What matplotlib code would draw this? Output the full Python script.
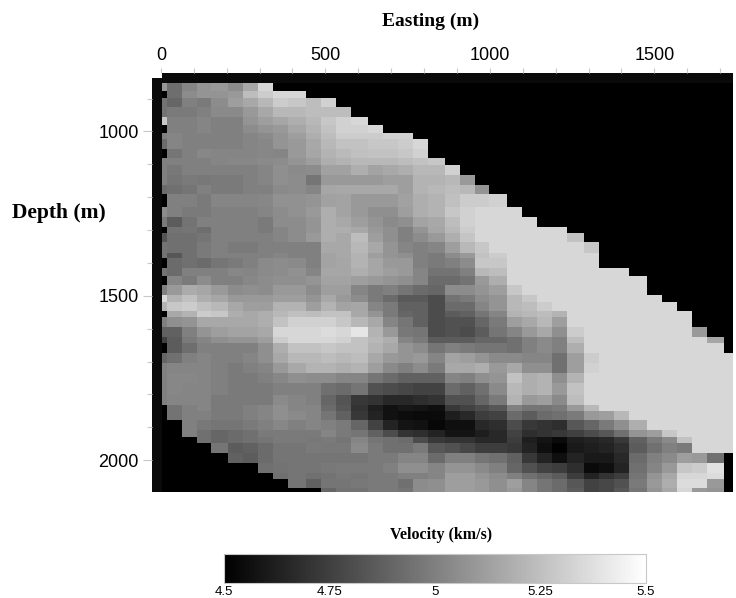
import numpy as np
import matplotlib
matplotlib.use("Agg")
import matplotlib.pyplot as plt

# cell edges (m)
x_edges = [-27, 3, 18, 64, 109, 152, 204, 249, 295, 340, 386, 441, 486, 532, 578, 629, 675, 720,
           766, 812, 863, 909, 955, 997, 1052, 1097, 1143, 1188, 1234, 1286, 1331, 1377, 1422,
           1477, 1523, 1568, 1614, 1660, 1711, 1739]
y_edges = [822, 837, 852, 877, 898, 925, 956, 980, 1005, 1023, 1053, 1081, 1102, 1132, 1163, 1190,
           1230, 1260, 1291, 1309, 1336, 1370, 1385, 1416, 1440, 1467, 1498, 1519, 1546, 1565,
           1595, 1626, 1644, 1675, 1705, 1736, 1766, 1802, 1833, 1851, 1878, 1909, 1930, 1948,
           1979, 2009, 2040, 2058, 2085, 2097]

x_ticks = [0, 500, 1000, 1500]
y_ticks = [1000, 1500, 2000]
bar_ticks = [4.5, 4.75, 5, 5.25, 5.5]
bar_labels = ["4.5", "4.75", "5", "5.25", "5.5"]

# narrow column just right of the left band, one value per row
narrow_col = [59, 0, 45, 45, 78, 0, 50, 42, 0, 50, 50, 50, 42, 0, 55, 48, 0, 33, 45, 45, 0, 45, 0,
              50, 85, 70, 0, 50, 38, 25, 0, 40, 50, 50, 50, 50, 0, 0, 0, 0, 0, 0, 0, 0, 0, 0, 0]

# velocity above 4.5 km/s in hundredths, per row, columns left to right (missing = no data, black)
rows = [
 [43,52,58,60,55,66,84],
 [43,55,58,58,60,74,80,84,84],
 [40,50,48,55,62,66,72,80,78,74,82],
 [48,48,50,54,54,60,66,72,72,74,74,74],
 [50,50,52,50,50,58,62,65,68,72,78,82,84],
 [50,50,52,50,50,55,58,60,65,70,76,82,82,84],
 [52,50,50,50,50,52,54,58,62,68,74,80,80,80,82,82],
 [52,50,50,50,50,52,53,58,60,66,72,76,76,78,78,80,84],
 [46,50,53,52,52,52,53,52,60,65,70,73,75,76,76,78,82],
 [50,50,50,52,53,53,54,55,58,62,68,70,72,72,72,74,76,78],
 [47,50,50,50,50,50,52,56,54,55,63,63,68,64,66,68,72,72,82],
 [46,48,47,48,48,50,52,56,55,46,60,60,60,60,62,62,70,70,72,60],
 [44,46,50,48,48,50,50,54,55,52,65,66,66,66,66,62,70,72,74,72,58],
 [50,50,48,52,52,52,53,57,57,58,63,64,60,60,60,63,68,70,75,80,80,82],
 [50,48,48,50,50,50,52,55,57,60,68,64,60,56,56,62,68,70,78,82,84,84,84],
 [36,45,50,50,50,50,48,55,55,58,68,66,62,58,54,56,64,66,74,82,84,84,84,84],
 [45,46,43,50,50,50,48,52,55,58,68,68,66,60,56,50,58,65,72,80,84,84,84,84,84,84],
 [44,44,46,50,50,50,50,52,55,60,68,66,74,62,56,50,55,60,68,77,84,84,84,84,84,84,76],
 [44,44,48,50,48,48,50,50,50,50,66,66,72,66,58,52,50,52,62,72,78,84,84,84,84,84,84,78],
 [34,44,48,50,50,50,50,52,50,50,64,66,70,62,58,56,50,48,55,60,76,80,84,84,84,84,84,84],
 [42,44,42,46,48,50,54,55,54,50,64,65,70,65,60,60,50,48,50,55,78,78,84,84,84,84,84,84],
 [42,50,50,50,53,52,54,55,57,52,65,65,68,65,62,60,52,45,45,50,72,74,84,84,84,84,84,84,84,84],
 [52,48,55,50,50,53,55,56,56,58,64,64,62,60,58,56,52,42,42,45,60,68,84,84,84,84,84,84,84,84,84],
 [60,67,65,60,55,56,55,60,60,55,62,62,52,48,50,46,42,40,55,55,58,62,78,84,84,84,84,84,84,84,84],
 [70,75,68,65,60,60,60,62,62,58,66,60,55,48,42,35,35,30,45,48,55,58,72,78,84,84,84,84,84,84,84,84],
 [78,80,75,72,66,62,62,70,70,62,70,64,65,52,48,38,38,30,42,42,52,58,72,74,80,84,84,84,84,84,84,84,84],
 [66,70,80,78,68,66,68,72,75,74,76,76,66,58,48,40,38,30,36,38,46,52,70,72,74,70,84,84,84,84,84,84,84,84],
 [56,58,66,66,66,66,68,76,82,82,82,78,72,66,52,46,38,30,32,32,40,48,62,66,72,62,84,84,84,84,84,84,84,84],
 [38,50,58,62,64,64,66,84,84,84,86,84,90,70,60,47,46,30,32,30,36,46,52,60,66,56,80,84,84,84,84,84,84,84,60],
 [36,48,52,56,58,58,62,80,84,84,84,82,76,72,68,52,48,36,36,36,40,40,44,50,54,50,74,84,84,84,84,84,84,84,84,65],
 [36,43,50,50,50,50,56,68,76,76,78,76,76,70,66,58,55,46,50,48,46,46,44,50,54,50,68,84,84,84,84,84,84,84,84,84],
 [44,50,52,50,50,52,56,66,72,72,74,72,74,66,60,58,60,52,64,62,58,54,54,52,52,44,62,80,84,84,84,84,84,84,84,84,84],
 [52,52,52,50,48,50,52,60,66,70,70,68,70,62,54,50,55,48,66,66,68,60,66,56,56,44,62,82,84,84,84,84,84,84,84,84,84],
 [53,53,52,50,48,48,50,53,56,55,55,52,52,46,42,38,38,38,52,50,56,58,76,68,70,56,70,84,84,84,84,84,84,84,84,84,84],
 [53,52,52,50,48,48,48,50,50,50,44,42,46,32,30,28,26,26,42,38,44,54,72,68,70,60,76,84,84,84,84,84,84,84,84,84,84],
 [52,52,52,48,48,48,48,54,52,50,40,33,22,20,16,16,18,20,32,32,40,48,70,60,62,54,74,84,84,84,84,84,84,84,84,84,84],
 [45,50,52,48,48,50,52,56,52,52,42,34,20,12,7,9,8,6,22,26,30,34,50,46,46,48,60,72,84,84,84,84,84,84,84,84,84],
 [45,50,50,48,48,50,52,56,54,52,46,38,22,14,7,5,4,4,12,16,24,26,42,36,42,44,48,60,62,72,84,84,84,84,84,84,84],
 [0,50,47,46,46,48,50,53,50,52,50,48,40,26,14,8,7,3,6,6,16,18,30,22,20,18,34,40,48,56,68,84,84,84,84,84,84],
 [0,50,44,40,42,44,48,48,48,48,52,48,46,38,30,20,18,14,8,8,12,16,26,18,20,22,25,30,34,44,58,62,78,84,84,84,84],
 [0,0,44,40,42,44,46,48,48,47,48,46,52,46,44,42,30,22,20,20,16,16,24,12,8,4,12,14,16,22,38,48,54,76,84,84,84],
 [0,0,0,46,36,38,42,46,46,48,47,47,54,48,44,44,48,34,32,28,24,24,22,14,6,1,10,12,14,18,36,44,50,48,84,84,84],
 [0,0,0,0,38,36,42,46,46,46,46,46,46,48,48,52,52,42,50,50,46,44,38,22,14,6,14,10,10,16,42,50,54,62,60,44,0],
 [0,0,0,0,0,0,44,45,46,46,47,48,48,48,50,56,56,52,58,58,54,50,40,32,26,24,18,4,6,14,44,52,60,78,80,88,0],
 [0,0,0,0,0,0,0,44,46,44,45,47,46,48,48,50,50,52,62,62,58,55,50,44,40,36,24,14,20,24,46,58,66,84,84,86,0],
 [0,0,0,0,0,0,0,0,46,38,46,46,47,48,48,44,55,56,62,62,60,56,62,52,46,42,34,26,28,32,48,60,68,86,86,60,0],
 [0,0,0,0,0,0,0,0,0,0,40,45,45,48,48,46,55,56,62,62,60,56,60,52,46,42,36,26,28,34,46,58,66,84,60,58,0],
]

n_cols = len(x_edges) - 1
# top band, two rows so the corner above the left band stays empty
grid = [[np.nan] + [4] * (n_cols - 1), [4] * n_cols]
for i, r in enumerate(rows):
    full = [4, narrow_col[i]] + r
    full = full + [0] * (n_cols - len(full))
    grid.append(full)
velocity = 4.5 + np.array(grid, dtype=float) / 100.0

plt.rcParams["font.family"] = ["Liberation Sans", "DejaVu Sans"]
tick_col = "#c8c8c8"

fig = plt.figure(figsize=(7.36, 5.98), dpi=100)
ax = fig.add_axes([152 / 736, 1 - 492 / 598, (733 - 152) / 736, (492 - 73) / 598])
cmap = plt.get_cmap("gray").copy()
cmap.set_bad("white")
mesh = ax.pcolormesh(x_edges, y_edges, np.ma.masked_invalid(velocity), cmap=cmap, vmin=4.5, vmax=5.5)
ax.set_xlim(x_edges[0], x_edges[-1])
ax.set_ylim(y_edges[-1], y_edges[0])

ax.xaxis.tick_top()
ax.set_xticks(x_ticks)
ax.set_yticks(y_ticks)
ax.set_xticks(np.arange(0, 1800, 100), minor=True)
ax.set_yticks(np.arange(900, 2100, 100), minor=True)
ax.tick_params(axis="x", which="both", length=3.5, color=tick_col, width=0.8, labelsize=13, pad=3)
ax.tick_params(axis="y", which="major", length=6.5, color=tick_col, width=0.8, labelsize=13, pad=3)
ax.tick_params(axis="y", which="minor", length=3.5, color=tick_col, width=0.8)
for s in ax.spines.values():
    s.set_visible(False)

fig.text(431 / 736, 1 - 21 / 598, "Easting (m)", family="Liberation Serif", weight="bold",
         fontsize=14, ha="center", va="center")
fig.text(59 / 736, 1 - 213 / 598, "Depth (m)", family="Liberation Serif", weight="bold",
         fontsize=15.5, ha="center", va="center")

cax = fig.add_axes([224 / 736, 1 - 583 / 598, (646 - 224) / 736, (583 - 554) / 598])
cb = fig.colorbar(mesh, cax=cax, orientation="horizontal", ticks=bar_ticks)
cb.set_ticklabels(bar_labels)
cb.ax.tick_params(length=0, labelsize=9.5, pad=2)
cb.outline.set_edgecolor(tick_col)
cb.outline.set_linewidth(0.8)
fig.text(441 / 736, 1 - 535 / 598, "Velocity (km/s)", family="Liberation Serif", weight="bold",
         fontsize=11.5, ha="center", va="center")

fig.savefig("out.png", dpi=100)
